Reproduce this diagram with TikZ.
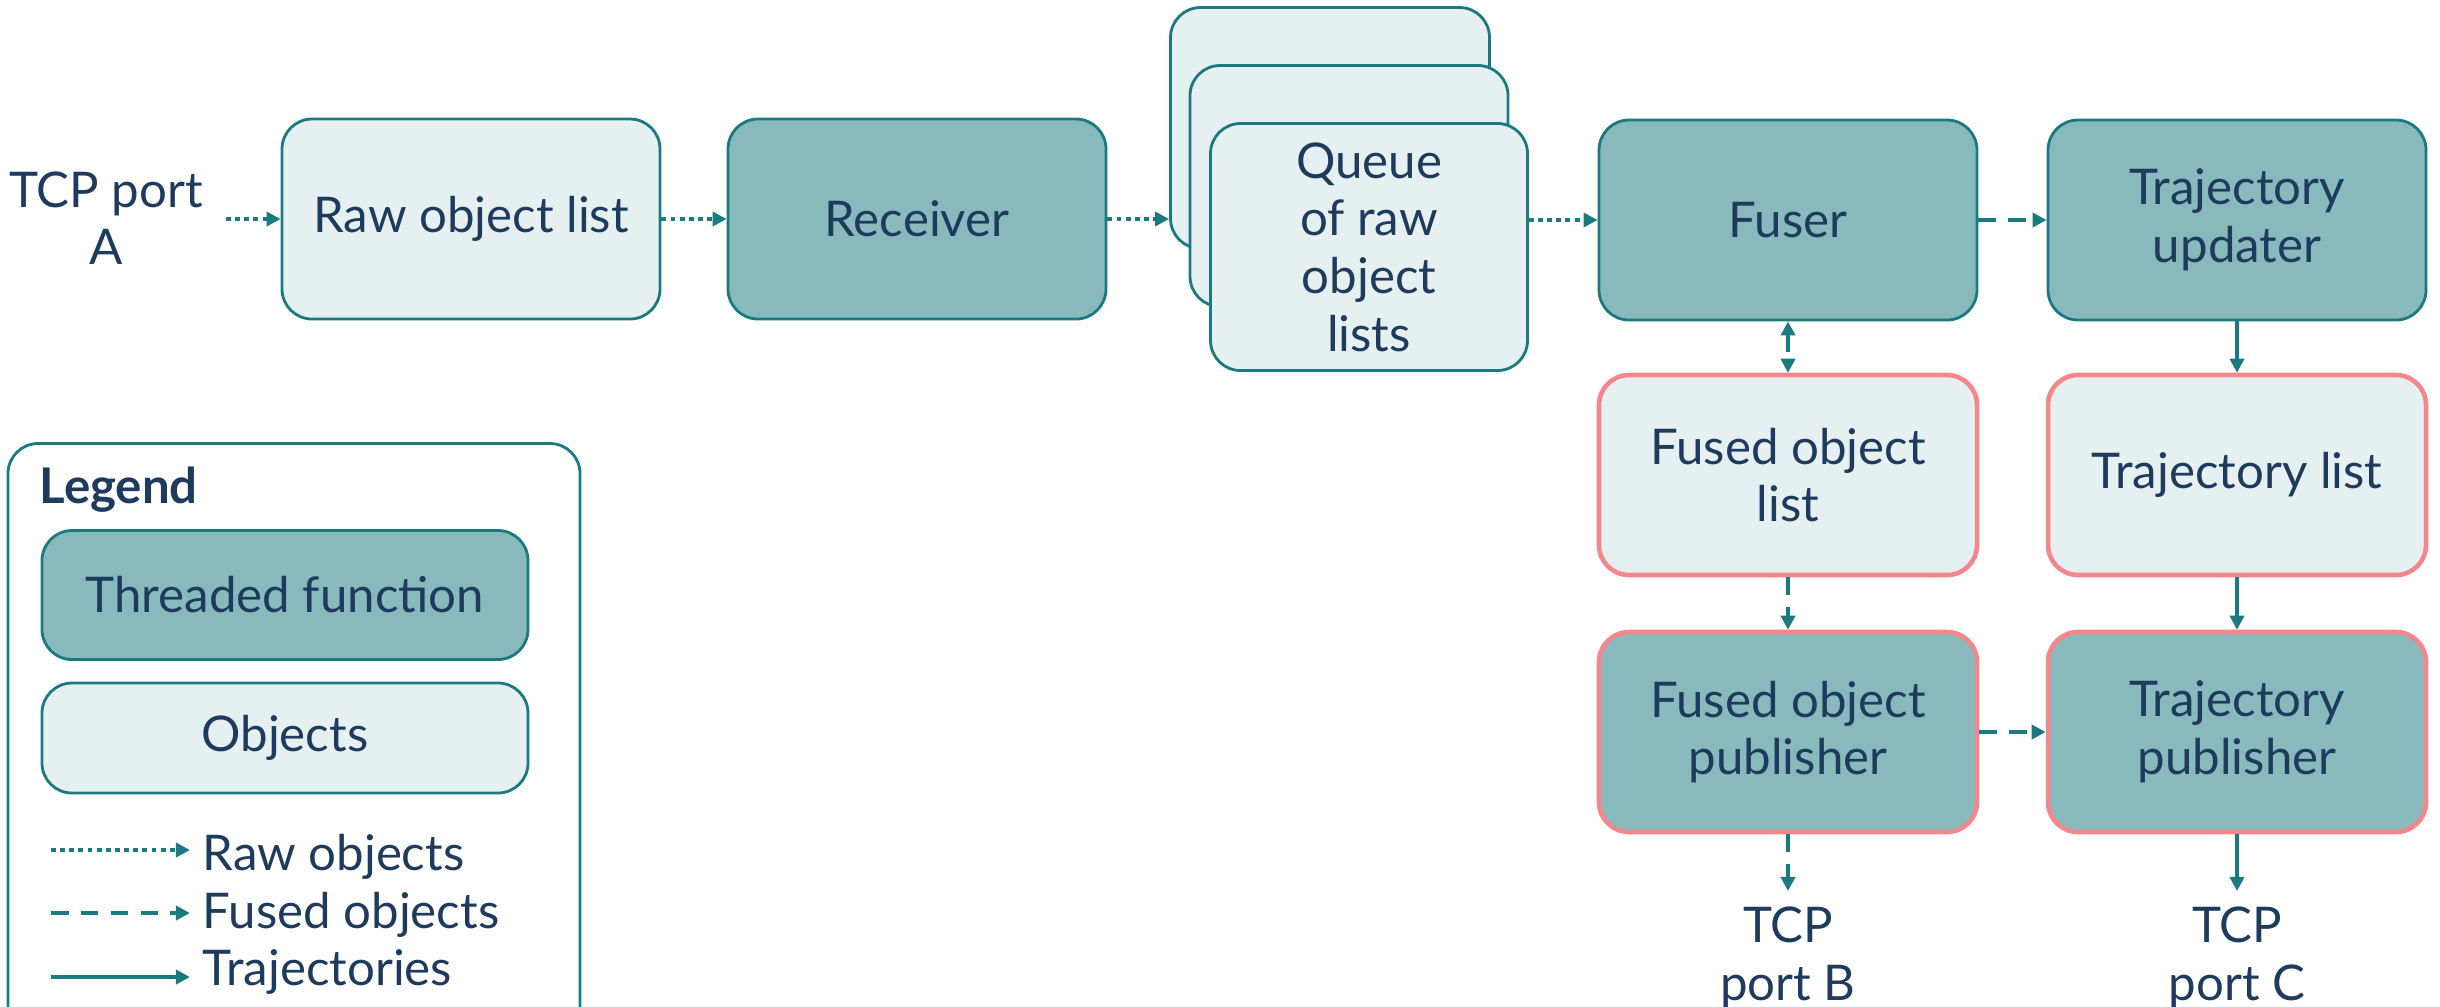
\documentclass[tikz,border=0pt]{standalone}
\usepackage{fontspec}
\setmainfont{Lato}
\usetikzlibrary{arrows.meta}

\definecolor{tealline}{RGB}{26,122,128}
\definecolor{tealfill}{RGB}{136,186,189}
\definecolor{palefill}{RGB}{230,240,241}
\definecolor{pinkline}{RGB}{245,134,140}
\definecolor{inktext}{RGB}{30,58,92}

\begin{document}
\begin{tikzpicture}[
		font=\fontsize{14}{16.4}\selectfont,
		text=inktext,
		block/.style={draw=tealline, line width=0.8pt, rounded corners=0.3cm, align=center, minimum width=3.78cm, minimum height=2cm},
		thread/.style={block, fill=tealfill},
		objbox/.style={block, fill=palefill},
		shared/.style={draw=pinkline, line width=1.3pt},
		port/.style={align=center, inner sep=1pt},
		flow/.style={draw=tealline, line width=1.2pt, -{Triangle[length=4pt,width=4pt]}},
		rawflow/.style={flow, dash pattern=on 1.4pt off 1.2pt},
		fusedflow/.style={flow, dash pattern=on 5pt off 3.5pt},
		trajflow/.style={flow},
		lgdtext/.style={anchor=west, inner sep=0.12cm},
	]
		\useasboundingbox (0,0) rectangle (24.4,-10.06);
		
		% main chain
		\node[port] (portA) at (1.06,-2.18) {TCP port\\A};
		\node[objbox] (rawlist) at (4.71,-2.19) {Raw object list};
		\node[thread] (receiver) at (9.17,-2.19) {Receiver};
		\node[objbox, minimum width=3.19cm, minimum height=2.41cm] (qback) at (13.30,-1.28) {};
		\node[objbox, minimum width=3.18cm, minimum height=2.41cm] (qmid) at (13.49,-1.86) {};
		\node[objbox, minimum width=3.17cm, minimum height=2.47cm] (qfront) at (13.69,-2.47) {Queue\\of raw\\object\\lists};
		\node[thread] (fuser) at (17.88,-2.20) {Fuser};
		\node[thread] (trajupd) at (22.37,-2.20) {Trajectory\\updater};
		
		% outputs
		\node[objbox, shared] (fusedlist) at (17.88,-4.75) {Fused object\\list};
		\node[objbox, shared] (trajlist) at (22.37,-4.75) {Trajectory list};
		\node[thread, shared] (fusedpub) at (17.88,-7.32) {Fused object\\publisher};
		\node[thread, shared] (trajpub) at (22.37,-7.32) {Trajectory\\publisher};
		\node[port, anchor=north] (portB) at (17.88,-9.03) {TCP\\port B};
		\node[port, anchor=north] (portC) at (22.37,-9.03) {TCP\\port C};
		
		\draw[rawflow, shorten <=0.19cm] (portA.east |- rawlist.west) -- (rawlist.west);
		\draw[rawflow] (rawlist) -- (receiver);
		\draw[rawflow] (receiver.east) -- (qback.west |- receiver.east);
		\draw[rawflow] (qfront.east |- fuser.west) -- (fuser.west);
		\draw[fusedflow] (fuser) -- (trajupd);
		\draw[fusedflow, {Triangle[length=4pt,width=4pt]}-{Triangle[length=4pt,width=4pt]}] (fuser) -- (fusedlist);
		\draw[fusedflow] (fusedlist) -- (fusedpub);
		\draw[fusedflow] (fusedpub) -- (trajpub);
		\draw[fusedflow, shorten >=0.12cm] (fusedpub.south) -- (portB.north);
		\draw[trajflow] (trajupd) -- (trajlist);
		\draw[trajflow] (trajlist) -- (trajpub);
		\draw[trajflow, shorten >=0.12cm] (trajpub.south) -- (portC.north);
		
		% legend
		\draw[tealline, line width=0.8pt, rounded corners=0.3cm] (0.08,-4.435) rectangle (5.80,-10.40);
		\node[anchor=west, inner sep=0pt] (lgdtitle) at (0.39,-4.90) {\bfseries Legend};
		\node[thread, minimum width=4.86cm, minimum height=1.29cm] (thrfunc) at (2.85,-5.95) {Threaded function};
		\node[objbox, minimum width=4.86cm, minimum height=1.10cm] (objs) at (2.85,-7.38) {Objects};
		\coordinate (rawstart) at (0.51,-8.50);
		\coordinate (fusedstart) at (0.51,-9.13);
		\coordinate (trajstart) at (0.51,-9.77);
		\node[lgdtext] (rawlbl) at (1.90,-8.57) {Raw objects};
		\node[lgdtext] (fusedlbl) at (1.90,-9.15) {Fused objects};
		\node[lgdtext] (trajlbl) at (1.90,-9.72) {Trajectories};
		\draw[rawflow] (rawstart) -- (rawstart -| rawlbl.west);
		\draw[fusedflow] (fusedstart) -- (fusedstart -| fusedlbl.west);
		\draw[trajflow] (trajstart) -- (trajstart -| trajlbl.west);
	\end{tikzpicture}
\end{document}
